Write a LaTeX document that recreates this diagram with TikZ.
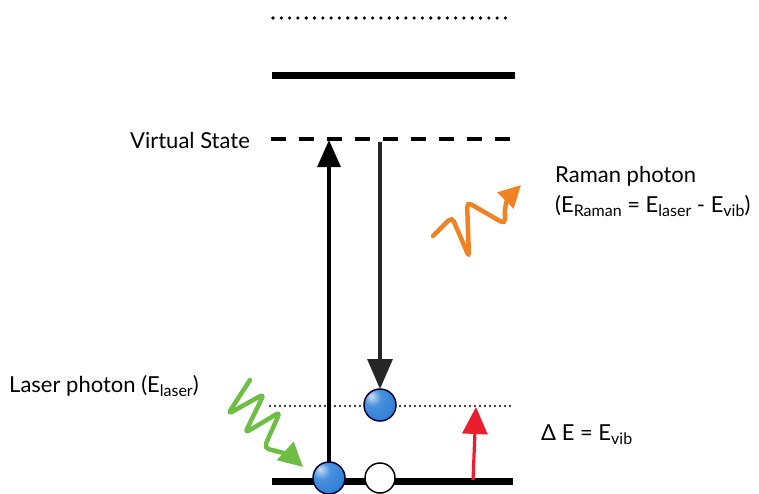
\documentclass[tikz,border=0pt]{standalone}
\usepackage{fontspec}
\setmainfont{Lato}
\usetikzlibrary{arrows.meta}
\definecolor{ramanorange}{RGB}{240,130,35}
\definecolor{lasergreen}{RGB}{110,190,70}
\definecolor{vibred}{RGB}{235,30,45}
\definecolor{ballblue}{RGB}{40,125,215}
\pgfdeclareradialshading{myball}{\pgfpoint{-14bp}{14bp}}{%
  color(0bp)=(white!75!ballblue);
  color(14bp)=(ballblue!85!white);
  color(40bp)=(ballblue);
  color(62bp)=(ballblue!70!black);
  color(100bp)=(ballblue!50!black)}
\newcommand{\sub}[1]{\raisebox{-0.35ex}{\fontsize{16}{16}\selectfont #1}}
\tikzset{
  lbl/.style={font=\fontsize{22}{26}\selectfont, inner sep=0pt},
  level/.style={line width=7pt},
  bigarrow/.style={line width=3.2pt, -{Triangle[length=27pt,width=23pt]}},
  wave/.style={line width=4.5pt, rounded corners=5pt, line cap=round},
  ball/.style={shading=myball, draw=black!80!blue, line width=1.5pt},
}
\begin{document}
\begin{tikzpicture}[x=1pt,y=-1pt]
\path[use as bounding box] (0,0) rectangle (759,493);
% levels
\coordinate (d1) at (273,18); \coordinate (d2) at (512,18);
\draw[line width=3.6pt, line cap=round, dash pattern=on 0pt off 8.3pt] (d1) -- (d2);
\coordinate (s1) at (272,75); \coordinate (s2) at (515,75);
\draw[level] (s1) -- (s2);
\coordinate (v1) at (271,139); \coordinate (v2) at (515,139);
\draw[line width=4pt, dash pattern=on 14.5pt off 13.5pt] (v1) -- (v2);
\coordinate (m1) at (270,406); \coordinate (m2) at (513,406);
\draw[line width=2.2pt, line cap=round, dash pattern=on 0pt off 5pt] (m1) -- (m2);
\coordinate (g1) at (272,481); \coordinate (g2) at (513,481);
\draw[level] (g1) -- (g2);
% arrows
\coordinate (upS) at (329,481); \coordinate (upE) at (329,140);
\draw[bigarrow, black] (upS) -- (upE);
\coordinate (dnS) at (380,142); \coordinate (dnE) at (380,389);
\draw[line width=3.2pt, black!85, -{Triangle[length=30pt,width=25pt]}] (dnS) -- (dnE);
\coordinate (rS) at (473,480); \coordinate (rE) at (476,407);
\draw[line width=3.2pt, vibred, -{Triangle[length=27pt,width=25pt]}] (rS) -- (rE);
% balls
\draw[ball] (329,478) circle (16pt);
\draw[ball] (380,405) circle (16pt);
\draw[line width=1.5pt, fill=white] (380,478) circle (15pt);
% green wave
\draw[wave, lasergreen] (250,380) -- (228,414) -- (264,394) -- (245,433) -- (280,412) -- (264,448) -- (276,451);
\draw[lasergreen, line width=4.5pt, -{Triangle[length=24pt,width=24pt]}] (274,451) .. controls (284,452) and (292,457) .. (303,467);
% orange wave
\draw[wave, ramanorange] (433,236) -- (452,217) -- (469,257) -- (467,202) -- (505,224) -- (505,214);
\draw[ramanorange, line width=4.5pt, -{Triangle[length=22pt,width=22pt]}] (505,216) .. controls (504,205) and (509,197) .. (521,185);
% labels
\node[lbl, anchor=east] (vs) at (250,140) {Virtual State};
\node[lbl, anchor=west] (lp) at (9,386) {Laser photon (E\sub{laser})};
\node[lbl, anchor=west] (rp) at (555,176) {Raman photon};
\node[lbl, anchor=west] (re) at (555,206) {(E\sub{Raman} = E\sub{laser} - E\sub{vib})};
\node[lbl, anchor=west] (de) at (541,435) {Δ E = E\sub{vib}};
\end{tikzpicture}
\end{document}
